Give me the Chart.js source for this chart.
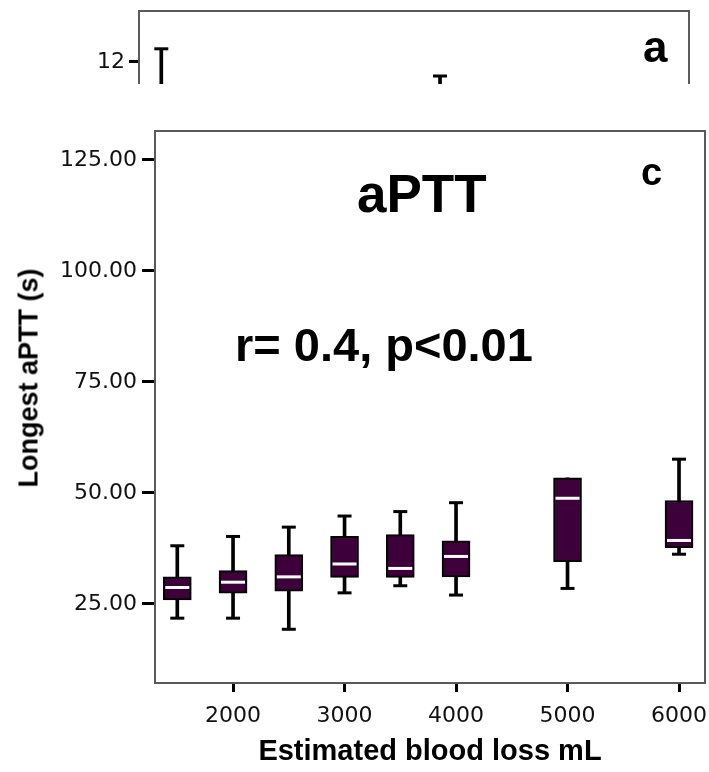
<!DOCTYPE html>
<html>
<head>
<meta charset="utf-8">
<title>Longest aPTT vs estimated blood loss</title>
<script src="https://cdn.jsdelivr.net/npm/chart.js@4.4.0/dist/chart.umd.min.js"></script>
<style>
  html, body { margin: 0; padding: 0; background: #fff; }
  #wrap { position: relative; width: 709px; height: 772px; overflow: hidden; }
  .box { position: absolute; left: 0; top: 0; width: 709px; }
  .note {
    position: absolute; color: #000; line-height: 1; white-space: nowrap;
    font-family: 'Liberation Sans', Arial, sans-serif; font-weight: bold;
  }
</style>
</head>
<body>
<div id="wrap">
  <div class="box" style="height:772px"><canvas id="panelC"></canvas></div>
  <div class="box" style="height:84px"><canvas id="panelA"></canvas></div>

  <div class="note" style="left:643px; top:25px; font-size:44px">a</div>
  <div class="note" style="left:641px; top:153px; font-size:38px">c</div>
  <div class="note" style="left:357px; top:167px; font-size:53px">aPTT</div>
  <div class="note" style="left:235px; top:321px; font-size:47px">r= 0.4, p&lt;0.01</div>
  <div class="note" style="left:29px; top:378px; font-size:27px; transform: translate(-50%, -50%) rotate(-90deg)">Longest aPTT (s)</div>
</div>

<script>
// --- data (panel c) ---
const bloodLoss   = [1500, 2000, 2500, 3000, 3500, 4000, 5000, 6000];
const whiskerLow  = [21.8, 21.8, 19.3, 27.5, 29.1, 27.0, 28.5, 36.2];
const q1          = [25.9, 27.4, 27.9, 31.0, 31.0, 31.1, 34.5, 37.7];
const median      = [28.7, 29.9, 31.1, 34.0, 33.0, 35.7, 48.8, 39.3];
const q3          = [31.1, 32.5, 36.1, 40.2, 40.6, 39.2, 53.4, 48.3];
const whiskerHigh = [38.1, 40.2, 42.3, 44.8, 45.8, 47.8, null, 57.6]; // 5000 has no upper whisker

const xTicks = [2000, 3000, 4000, 5000, 6000];
const yTicks = [25, 50, 75, 100, 125];

// the cut-off bit of panel a above
const panelAGroups     = [1500, 4000];
const panelAWhiskerTop = [12.33, 11.65];
const panelATicks      = [12];

// --- look ---
const BOX_FILL = '#3d003a';
const FRAME = '#5a5a5a';
const X_MIN = 1300, X_MAX = 6233;
const Y_MIN = 7.2, Y_MAX = 131.5;
const A_MIN = 11.45, A_MAX = 13.275;

const tickFont = { family: 'DejaVu Sans', size: 22 };
const tickColor = '#111';

// draws the plot frame around the chart area
const framePlugin = {
  id: 'frame',
  afterDraw(chart, args, opts) {
    const { ctx, chartArea: a } = chart;
    ctx.save();
    ctx.strokeStyle = opts.color;
    ctx.lineWidth = opts.width;
    ctx.beginPath();
    if (opts.open) {
      // open bottom: the panel is cut off there
      ctx.moveTo(a.left, a.bottom + 2);
      ctx.lineTo(a.left, a.top);
      ctx.lineTo(a.right, a.top);
      ctx.lineTo(a.right, a.bottom + 2);
    } else {
      ctx.rect(a.left, a.top, a.right - a.left, a.bottom - a.top);
    }
    ctx.stroke();
    ctx.restore();
  }
};

function capPoints(xs, ys) {
  const pts = [];
  xs.forEach((x, i) => { if (ys[i] != null) pts.push({ x: x, y: ys[i] }); });
  return pts;
}

// --- panel c ---
new Chart(document.getElementById('panelC'), {
  type: 'bar',
  data: {
    datasets: [
      {
        // whisker stems
        type: 'bar',
        data: bloodLoss.map((x, i) => ({ x: x, y: [whiskerLow[i], whiskerHigh[i] ?? q3[i]] })),
        backgroundColor: '#000',
        borderWidth: 0,
        barThickness: 3,
        grouped: false,
        order: 4
      },
      {
        // whisker caps
        type: 'scatter',
        data: capPoints(bloodLoss, whiskerLow).concat(capPoints(bloodLoss, whiskerHigh)),
        pointStyle: 'line',
        pointRadius: 7,
        borderColor: '#000',
        borderWidth: 3,
        order: 3
      },
      {
        // boxes q1..q3
        type: 'bar',
        data: bloodLoss.map((x, i) => ({ x: x, y: [q1[i], q3[i]] })),
        backgroundColor: BOX_FILL,
        borderColor: '#000',
        borderWidth: 2,
        borderSkipped: false,
        barThickness: 28,
        grouped: false,
        order: 2
      },
      {
        // medians
        type: 'scatter',
        data: bloodLoss.map((x, i) => ({ x: x, y: median[i] })),
        pointStyle: 'line',
        pointRadius: 12,
        borderColor: '#fff',
        borderWidth: 3,
        order: 1
      }
    ]
  },
  options: {
    responsive: true,
    maintainAspectRatio: false,
    animation: false,
    events: [],
    // autoPadding off, otherwise the point sizes eat into the right margin
    layout: { autoPadding: false, padding: { left: 0, top: 131, right: 4, bottom: 0 } },
    plugins: {
      legend: { display: false },
      tooltip: { enabled: false },
      frame: { color: FRAME, width: 2, open: false }
    },
    scales: {
      x: {
        type: 'linear',
        min: X_MIN,
        max: X_MAX,
        offset: false,
        afterBuildTicks: s => { s.ticks = xTicks.map(v => ({ value: v })); },
        afterFit: s => { s.height = 89; s.paddingLeft = 0; s.paddingRight = 0; },
        grid: { offset: false, drawOnChartArea: false, tickLength: 9, tickWidth: 3, tickColor: '#000' },
        border: { display: false },
        ticks: { font: tickFont, color: tickColor, padding: 11, maxRotation: 0, autoSkip: false, callback: v => String(v) },
        title: {
          display: true,
          text: 'Estimated blood loss mL',
          color: '#000',
          font: { family: 'Liberation Sans', weight: 'bold', size: 29 },
          padding: { top: 3, bottom: 3 }
        }
      },
      y: {
        type: 'linear',
        min: Y_MIN,
        max: Y_MAX,
        afterBuildTicks: s => { s.ticks = yTicks.map(v => ({ value: v })); },
        afterFit: s => { s.width = 155; s.paddingTop = 0; s.paddingBottom = 0; },
        grid: { drawOnChartArea: false, tickLength: 13, tickWidth: 3, tickColor: '#000' },
        border: { display: false },
        ticks: { font: tickFont, color: tickColor, padding: 5, callback: v => v.toFixed(2) }
      }
    }
  },
  plugins: [framePlugin]
});

// --- panel a (only its top strip is visible) ---
new Chart(document.getElementById('panelA'), {
  type: 'bar',
  data: {
    datasets: [
      {
        type: 'bar',
        data: panelAGroups.map((x, i) => ({ x: x, y: [A_MIN, panelAWhiskerTop[i]] })),
        backgroundColor: '#000',
        borderWidth: 0,
        barThickness: 3,
        grouped: false,
        order: 2
      },
      {
        type: 'scatter',
        data: capPoints(panelAGroups, panelAWhiskerTop),
        pointStyle: 'line',
        pointRadius: 7,
        borderColor: '#000',
        borderWidth: 3,
        order: 1
      }
    ]
  },
  options: {
    responsive: true,
    maintainAspectRatio: false,
    animation: false,
    events: [],
    layout: { autoPadding: false, padding: { left: 0, top: 11, right: 20, bottom: 0 } },
    plugins: {
      legend: { display: false },
      tooltip: { enabled: false },
      frame: { color: FRAME, width: 2, open: true }
    },
    scales: {
      x: { type: 'linear', min: X_MIN, max: X_MAX, offset: false, display: false, grid: { offset: false } },
      y: {
        type: 'linear',
        min: A_MIN,
        max: A_MAX,
        afterBuildTicks: s => { s.ticks = panelATicks.map(v => ({ value: v })); },
        afterFit: s => { s.width = 139; s.paddingTop = 0; s.paddingBottom = 0; },
        grid: { drawOnChartArea: false, tickLength: 10, tickWidth: 3, tickColor: '#000' },
        border: { display: false },
        ticks: { font: tickFont, color: tickColor, padding: 4 }
      }
    }
  },
  plugins: [framePlugin]
});
</script>
</body>
</html>
